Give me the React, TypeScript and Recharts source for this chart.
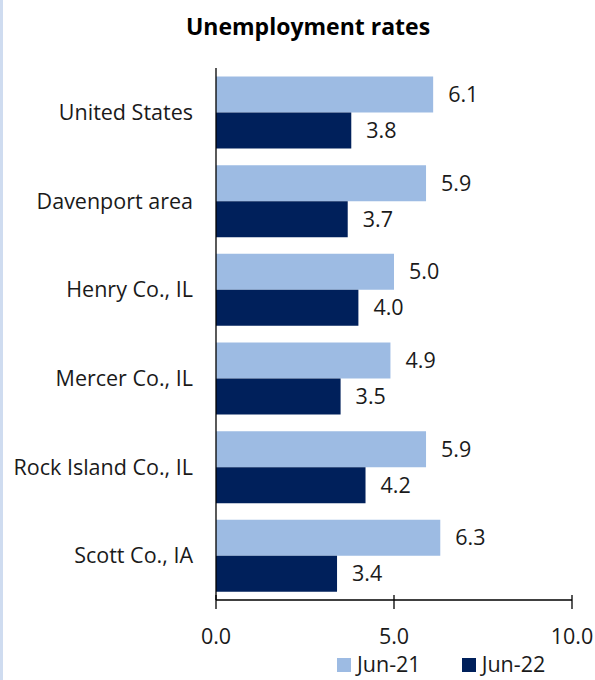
import { BarChart, Bar, XAxis, YAxis, LabelList, Legend } from "recharts";

const categories = [
  "United States",
  "Davenport area",
  "Henry Co., IL",
  "Mercer Co., IL",
  "Rock Island Co., IL",
  "Scott Co., IA",
];
const jun21 = [6.1, 5.9, 5.0, 4.9, 5.9, 6.3];
const jun22 = [3.8, 3.7, 4.0, 3.5, 4.2, 3.4];
const xTicks = [0, 5, 10];

const LIGHT = "#9dbbe3";
const DARK = "#00205b";
const FONT = "'Open Sans', sans-serif";
const FS = 21.5;

const data = categories.map((name, i) => ({ name, jun21: jun21[i], jun22: jun22[i] }));

function XTick({ x, y, payload }: any) {
  return (
    <g>
      <line x1={x} x2={x} y1={y - 7} y2={y + 7} stroke="#000" strokeWidth={1.3} />
      <text x={x} y={y + 42} textAnchor="middle" style={{ fontSize: FS, fill: "#1a1a1a", fontFamily: FONT }}>
        {payload.value.toFixed(1)}
      </text>
    </g>
  );
}

function LegendContent() {
  const items = [
    { label: "Jun-21", color: LIGHT },
    { label: "Jun-22", color: DARK },
  ];
  return (
    <div
      style={{
        position: "absolute",
        left: 337,
        top: 0,
        height: 24,
        lineHeight: "24px",
        display: "flex",
        gap: 41,
        fontFamily: FONT,
        fontSize: FS,
        color: "#1a1a1a",
        whiteSpace: "nowrap",
      }}
    >
      {items.map((it) => (
        <div key={it.label} style={{ display: "flex", alignItems: "center", gap: 6 }}>
          <span style={{ width: 14, height: 14, marginTop: 2, background: it.color, display: "inline-block" }} />
          <span>{it.label}</span>
        </div>
      ))}
    </div>
  );
}

export default function App() {
  return (
    <div
      style={{
        position: "absolute",
        top: 0,
        left: 0,
        width: 595,
        height: 680,
        background: "#fff",
        borderLeft: "3px solid #cfdcf0",
        boxSizing: "border-box",
        fontFamily: FONT,
        overflow: "hidden",
      }}
    >
      <div
        style={{
          position: "absolute",
          top: 10,
          left: 0,
          width: 610,
          textAlign: "center",
          fontWeight: 700,
          fontSize: 23,
          color: "#000",
        }}
      >
        Unemployment rates
      </div>
      <div style={{ position: "absolute", top: 0, left: -3 }}>
        <BarChart
          width={595}
          height={680}
          data={data}
          layout="vertical"
          margin={{ top: 68, right: 23, bottom: 14, left: 0 }}
          barCategoryGap="9.6%"
          barGap={0}
        >
          <XAxis
            type="number"
            domain={[0, 10]}
            ticks={xTicks}
            height={40}
            tickSize={0}
            axisLine={{ stroke: "#000", strokeWidth: 1.3 }}
            tickLine={false}
            tick={<XTick />}
            interval={0}
          />
          <YAxis
            type="category"
            dataKey="name"
            width={216}
            tickSize={0}
            tickMargin={23}
            tickLine={false}
            axisLine={{ stroke: "#000", strokeWidth: 1.3 }}
            tick={{ fontSize: FS, fill: "#1a1a1a", fontFamily: FONT }}
          />
          <Legend
            verticalAlign="bottom"
            align="left"
            content={<LegendContent />}
            wrapperStyle={{ height: 26, bottom: 2, left: 0, width: 595 }}
          />
          <Bar dataKey="jun21" name="Jun-21" fill={LIGHT} isAnimationActive={false}>
            <LabelList
              dataKey="jun21"
              position="right"
              offset={15}
              formatter={(v: any) => Number(v).toFixed(1)}
              style={{ fontSize: FS, fill: "#1a1a1a", fontFamily: FONT }}
            />
          </Bar>
          <Bar dataKey="jun22" name="Jun-22" fill={DARK} isAnimationActive={false}>
            <LabelList
              dataKey="jun22"
              position="right"
              offset={15}
              formatter={(v: any) => Number(v).toFixed(1)}
              style={{ fontSize: FS, fill: "#1a1a1a", fontFamily: FONT }}
            />
          </Bar>
        </BarChart>
      </div>
    </div>
  );
}
